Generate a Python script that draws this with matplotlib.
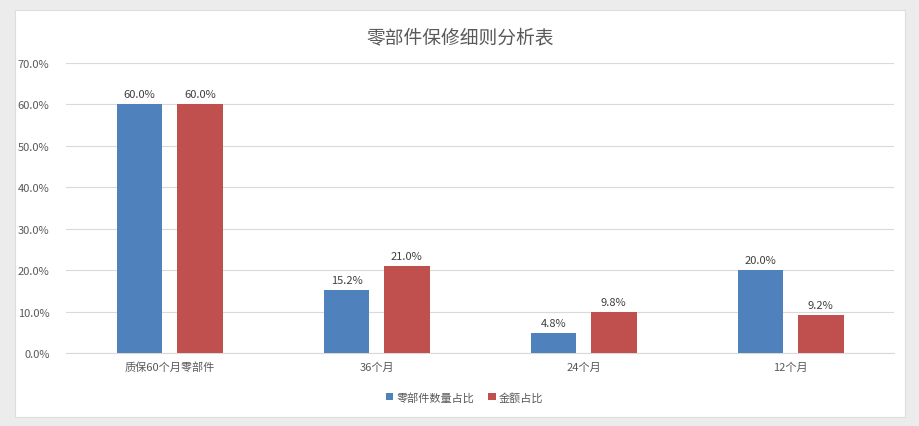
import numpy as np
import matplotlib.pyplot as plt
from matplotlib.patches import Rectangle

plt.rcParams['font.family'] = ['Noto Sans CJK SC', 'DejaVu Sans']

categories = ['质保60个月零部件', '36个月', '24个月', '12个月']
qty_share = [60.0, 15.2, 4.8, 20.0]
amount_share = [60.0, 21.0, 9.8, 9.2]
series_names = ['零部件数量占比', '金额占比']

blue = '#4F81BD'
red = '#C0504D'

fig = plt.figure(figsize=(9.2, 4.27), dpi=100, facecolor='#ececec')
# white chart panel
fig.patches.append(Rectangle((0.016, 0.02), 0.968, 0.955, transform=fig.transFigure,
                             facecolor='white', edgecolor='#dddddd', lw=0.8, zorder=-1))

ax = fig.add_axes([0.072, 0.171, 0.9, 0.679])
ax.set_facecolor('none')
ax.set_zorder(2)

x = np.arange(len(categories))
w = 0.22
off = 0.145
b1 = ax.bar(x - off, qty_share, w, color=blue, label=series_names[0], zorder=3)
b2 = ax.bar(x + off, amount_share, w, color=red, label=series_names[1], zorder=3)

for bars, vals in ((b1, qty_share), (b2, amount_share)):
    for b, v in zip(bars, vals):
        ax.text(b.get_x() + b.get_width() / 2, v + 1.2, f'{v:.1f}%', ha='center', va='bottom',
                fontsize=8, color='#404040')

ax.set_xlim(-0.5, len(categories) - 0.5)
ax.set_ylim(0, 70)
ax.set_yticks(np.arange(0, 71, 10))
ax.set_yticklabels([f'{v:.1f}%' for v in np.arange(0, 71, 10)])
ax.set_xticks(x)
ax.set_xticklabels(categories)
ax.tick_params(axis='both', length=0, labelsize=8, colors='#595959')
ax.tick_params(axis='y', pad=12)
ax.tick_params(axis='x', pad=6)
ax.grid(axis='y', color='#d9d9d9', lw=0.8, zorder=0)
for s in ('top', 'right', 'left'):
    ax.spines[s].set_visible(False)
ax.spines['bottom'].set_color('#d9d9d9')

fig.text(0.5, 0.912, '零部件保修细则分析表', ha='center', va='center', fontsize=13.5, color='#595959')

fig.legend(loc='center', bbox_to_anchor=(0.505, 0.068), ncol=2, frameon=False, fontsize=8,
           handlelength=0.7, handleheight=0.7, handletextpad=0.3, columnspacing=1.2,
           labelcolor='#595959')

fig.savefig('out.png', dpi=100, facecolor=fig.get_facecolor())
